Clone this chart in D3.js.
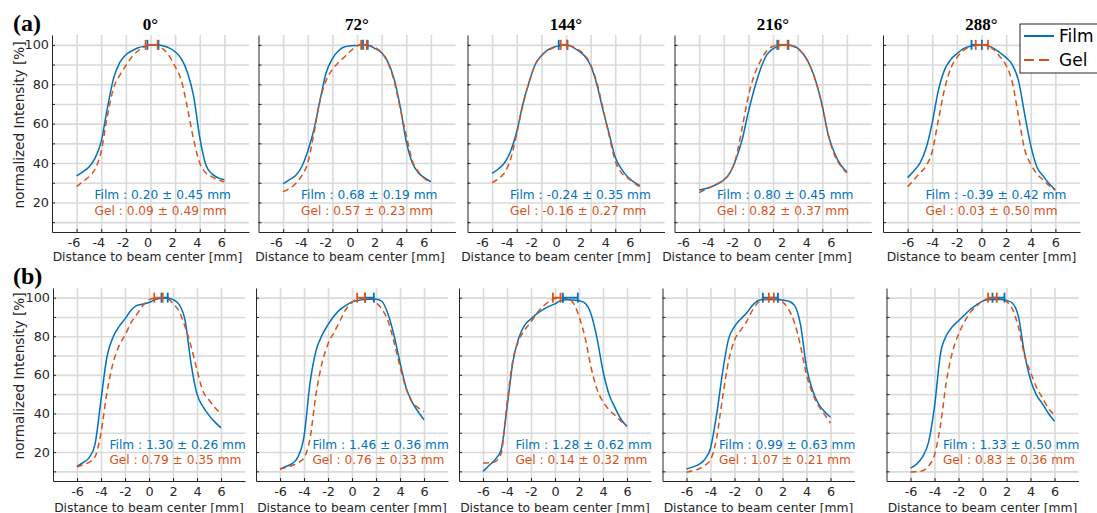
<!DOCTYPE html>
<html>
<head>
<meta charset="utf-8">
<script src="https://cdn.jsdelivr.net/npm/d3@7"></script>
<style>
  body { margin: 0; background: #fff; }
  svg { display: block; }
</style>
</head>
<body>
<svg id="chart" width="1097" height="513"></svg>
<script>
// ---- data ----
const angles = ["0°", "72°", "144°", "216°", "288°"];
const xs = [-6, -5.5, -5, -4.5, -4, -3.5, -3, -2.5, -2, -1.5, -1, -0.5, 0,
            0.5, 1, 1.5, 2, 2.5, 3, 3.5, 4, 4.5, 5, 5.5, 6];

// row (a)
const filmA = [
  [33.5, 35.5, 38, 42.5, 51, 68, 83, 91, 95, 97, 98.5, 99.3, 100, 100, 99.5, 98.5, 96.5, 93, 86, 74, 53, 39, 34.5, 32.5, 31.5],
  [29.5, 31.5, 33.5, 38, 46, 57, 72, 86, 93, 97, 99, 99.5, 99.7, 100, 99.5, 98, 96, 91.5, 83, 69, 51, 40, 35, 32.5, 30.5],
  [34.8, 37, 40, 46, 56, 70, 81, 90, 94.5, 97.3, 98.8, 99.6, 100, 99, 97, 94.5, 89.5, 80, 67, 55, 43, 37, 33, 30.5, 28.5],
  [26.3, 27, 28, 29.5, 31.4, 35, 42, 52, 66, 78, 88, 95, 98, 99.5, 100, 99.7, 98.3, 95, 89.5, 81, 69, 54, 45, 39, 35.5],
  [32.6, 36, 40, 47.5, 60.5, 77, 87.3, 92.5, 95.5, 98, 99.2, 99.7, 100, 99.5, 98.2, 96, 93.5, 90, 82, 65, 49, 38, 33.5, 29.5, 26.3]
];
const gelA = [
  [28, 30.5, 33, 37, 46, 64, 78, 84.5, 89.5, 94, 97, 99, 100, 99.8, 98, 94.5, 89, 82, 68, 52, 40, 35, 33, 31.5, 30.5],
  [25.5, 27, 29.5, 33.5, 40, 55, 72, 82, 87.5, 91, 94, 97, 99.5, 100, 99.7, 98.5, 96, 91, 82, 68, 54, 41, 35.5, 32, 30],
  [30, 32, 35, 42, 55, 69.5, 81, 90, 94.5, 97, 98.6, 99.5, 100, 99.2, 97.5, 95, 90, 81, 68, 54, 41, 35, 32.5, 30, 28],
  [25, 26.5, 28, 29.5, 31.4, 35, 43, 58, 74, 85, 92, 97, 99.3, 100, 100, 99.5, 98, 95, 89.5, 81, 69, 54, 44, 38.5, 35],
  [28, 31.5, 35, 38.5, 46, 62, 77.5, 88, 93.5, 97, 99, 100, 100, 99.5, 97.5, 94, 89.5, 81, 64, 47, 39.5, 34.5, 31.5, 28.5, 26.3]
];
// row (b)
const filmB = [
  [12.6, 14.5, 17, 24, 47, 69.5, 79.5, 85, 89, 93.5, 96, 96.7, 97.5, 99, 99.7, 99.8, 99, 96.5, 88.5, 66, 50, 43.5, 39, 35.5, 32.5],
  [11.2, 12.5, 14, 17.5, 28, 55.7, 72.5, 80.5, 86, 90.5, 93.8, 96, 97.8, 98.5, 99, 99.2, 99.2, 98, 91.5, 80.5, 66.5, 53.5, 46, 41, 36.7],
  [10, 13, 16, 21, 43, 67, 79.5, 86, 89, 91.7, 93.8, 95.5, 96.8, 98.5, 98.9, 98.8, 98.4, 97.2, 91.5, 79, 62, 50, 43, 37, 33.3],
  [11.2, 12.2, 13.5, 16, 22, 39, 61, 78.5, 85, 88.8, 92, 96, 98.5, 99, 99.1, 99.1, 98.8, 98.2, 96, 86, 64, 52, 45, 41, 38],
  [11.7, 13.7, 17.5, 25, 43.5, 71, 80.5, 85, 88, 91, 94, 96.3, 98.2, 99, 99.1, 99.1, 98.6, 97.1, 90, 71, 57.5, 49.5, 45, 40, 36]
];
const gelB = [
  [12.2, 13.5, 14.7, 17.5, 30, 51, 66, 75, 80.5, 87, 91.5, 96, 99, 99.8, 100, 99.7, 97, 93, 85, 75, 62.5, 51.5, 47, 43, 40],
  [11.2, 12, 13, 14.5, 17, 27, 50, 66, 76, 82, 88, 94, 97.5, 99.5, 99.8, 99.7, 97.5, 94, 88, 77, 64.3, 53, 46, 43, 41],
  [14.3, 14.5, 15, 19, 45, 68, 78, 83.5, 87.5, 92, 95.5, 97.9, 99.6, 99.8, 99.5, 97.5, 90.2, 79.5, 64, 52.5, 46, 42, 39, 36, 33.3],
  [9.5, 10.3, 11.2, 13, 16, 27, 48, 67, 78, 83, 87.5, 93.5, 97.6, 99, 99.1, 99, 97.8, 94, 87, 75, 60, 50.5, 44, 39.5, 35],
  [9.7, 9.8, 10.3, 12.8, 18.5, 34, 57, 72, 81, 87.5, 92.5, 95.5, 98.3, 99.5, 99.7, 99.6, 98, 94, 84.5, 70, 61.5, 53.5, 48, 42.5, 39.3]
];

// shift of the peak (mean ± std, mm)
const filmMeanA = [0.20, 0.68, -0.24, 0.80, -0.39];
const filmStdA  = [0.45, 0.19, 0.35, 0.45, 0.42];
const gelMeanA  = [0.09, 0.57, -0.16, 0.82, 0.03];
const gelStdA   = [0.49, 0.23, 0.27, 0.37, 0.50];
const filmMeanB = [1.30, 1.46, 1.28, 0.99, 1.33];
const filmStdB  = [0.26, 0.36, 0.62, 0.63, 0.50];
const gelMeanB  = [0.79, 0.76, 0.14, 1.07, 0.83];
const gelStdB   = [0.35, 0.33, 0.32, 0.21, 0.36];

const xTicks = [-6, -4, -2, 0, 2, 4, 6];
const yGrid = [10, 20, 30, 40, 50, 60, 70, 80, 90, 100];
const yLabels = [20, 40, 60, 80, 100];
const seriesNames = ["Film", "Gel"];

// ---- layout ----
const FILM = "#0072BD", GEL = "#D95319", AX = "#262626", GRID = "#dadada";
const FONT = "DejaVu Sans";

const rows = [
  { tag: "(a)", tagY: 31, top: 35, bottom: 232, width: 197, xLabelDy: 29,
    lefts: [52, 258.5, 467.5, 674.5, 883], labelDx: [-3, -7, -10, -16, 0],
    film: filmA, gel: gelA, fm: filmMeanA, fs: filmStdA, gm: gelMeanA, gs: gelStdA,
    annotX: -4.55, titles: true, yLabelY: 125 },
  { tag: "(b)", tagY: 284, top: 288, bottom: 481, width: 192, xLabelDy: 30.5,
    lefts: [53, 256, 459, 662.5, 886.5], labelDx: [0, 0, 0, 0, 0],
    film: filmB, gel: gelB, fm: filmMeanB, fs: filmStdB, gm: gelMeanB, gs: gelStdB,
    annotX: -3.3, titles: false, yLabelY: 376 }
];

const svg = d3.select("#chart");

rows.forEach((row) => {
  svg.append("text")
    .attr("x", 13).attr("y", row.tagY)
    .attr("font-family", "Liberation Serif").attr("font-weight", "bold")
    .attr("font-size", 24).attr("fill", "#000")
    .text(row.tag);

  // y label only on first panel of each row
  svg.append("text")
    .attr("transform", `translate(24,${row.yLabelY}) rotate(-90)`)
    .attr("text-anchor", "middle")
    .attr("font-family", FONT).attr("font-size", 13.6).attr("fill", AX)
    .text("normalized Intensity [%]");

  angles.forEach((ang, i) => {
    const left = row.lefts[i];
    const x = d3.scaleLinear().domain([-8, 8]).range([left, left + row.width]);
    const y = d3.scaleLinear().domain([5, 105]).range([row.bottom, row.top]);
    const h = row.bottom - row.top;
    const g = svg.append("g");

    // grid
    g.append("g")
      .attr("transform", `translate(0,${row.bottom})`)
      .call(d3.axisBottom(x).tickValues(xTicks).tickSize(-h).tickFormat(""))
      .call((s) => s.select(".domain").remove())
      .call((s) => s.selectAll("line").attr("stroke", GRID).attr("stroke-width", 1.6));
    g.append("g")
      .attr("transform", `translate(${left},0)`)
      .call(d3.axisLeft(y).tickValues(yGrid).tickSize(-row.width).tickFormat(""))
      .call((s) => s.select(".domain").remove())
      .call((s) => s.selectAll("line").attr("stroke", GRID).attr("stroke-width", 1.6));

    // axis lines + small inner ticks
    g.append("g")
      .attr("transform", `translate(${left},0)`)
      .call(d3.axisLeft(y).tickValues(yGrid).tickSize(-3).tickSizeOuter(0).tickFormat(""))
      .call((s) => s.selectAll("line, path").attr("stroke", AX));
    g.append("g")
      .attr("transform", `translate(0,${row.bottom})`)
      .call(d3.axisBottom(x).tickValues(xTicks).tickSize(-3).tickSizeOuter(0).tickFormat(""))
      .call((s) => s.selectAll("line, path").attr("stroke", AX));

    // tick labels
    g.append("g")
      .attr("transform", `translate(${row.labelDx[i]},${row.bottom})`)
      .call(d3.axisBottom(x).tickValues(xTicks).tickSize(0).tickPadding(6).tickFormat((d) => String(d)))
      .call((s) => s.select(".domain").remove())
      .call((s) => s.selectAll("text").attr("font-family", FONT).attr("font-size", 12.8).attr("fill", AX));
    if (i === 0) {
      g.append("g")
        .attr("transform", `translate(${left},0)`)
        .call(d3.axisLeft(y).tickValues(yLabels).tickSize(0).tickPadding(3).tickFormat((d) => String(d)))
        .call((s) => s.select(".domain").remove())
        .call((s) => s.selectAll("text").attr("font-family", FONT).attr("font-size", 12.8).attr("fill", AX));
    }

    g.append("text")
      .attr("x", left + row.width / 2 + row.labelDx[i]).attr("y", row.bottom + row.xLabelDy)
      .attr("text-anchor", "middle")
      .attr("font-family", FONT).attr("font-size", 12.3).attr("fill", AX)
      .text("Distance to beam center [mm]");

    if (row.titles) {
      g.append("text")
        .attr("x", left + row.width / 2).attr("y", 30)
        .attr("text-anchor", "middle")
        .attr("font-family", "Liberation Serif").attr("font-weight", "bold")
        .attr("font-size", 17).attr("fill", "#000")
        .text(ang);
    }

    // curves
    const line = d3.line()
      .x((d, k) => x(xs[k]))
      .y((d) => y(d))
      .curve(d3.curveMonotoneX);
    g.append("path")
      .attr("d", line(row.film[i]))
      .attr("fill", "none").attr("stroke", FILM).attr("stroke-width", 1.5);
    g.append("path")
      .attr("d", line(row.gel[i]))
      .attr("fill", "none").attr("stroke", GEL).attr("stroke-width", 1.5)
      .attr("stroke-dasharray", "6,4");

    // peak-shift error bars at 100 %
    const bars = [
      { m: row.fm[i], s: row.fs[i], c: FILM },
      { m: row.gm[i], s: row.gs[i], c: GEL }
    ];
    bars.forEach((b) => {
      const y0 = y(100);
      const bg = g.append("g").attr("stroke", b.c).attr("stroke-width", 1.8);
      bg.append("line").attr("x1", x(b.m - b.s)).attr("x2", x(b.m + b.s)).attr("y1", y0).attr("y2", y0);
      [b.m - b.s, b.m + b.s].forEach((v) => {
        bg.append("line").attr("x1", x(v)).attr("x2", x(v)).attr("y1", y0 - 5).attr("y2", y0 + 5);
      });
    });

    // annotations
    const fmt = (v) => v.toFixed(2);
    g.append("text")
      .attr("x", x(row.annotX)).attr("y", y(24)).attr("dy", "0.35em")
      .attr("font-family", FONT).attr("font-size", 12.2).attr("fill", FILM)
      .text(`Film : ${fmt(row.fm[i])} ± ${fmt(row.fs[i])} mm`);
    g.append("text")
      .attr("x", x(row.annotX)).attr("y", y(16)).attr("dy", "0.35em")
      .attr("font-family", FONT).attr("font-size", 12.2).attr("fill", GEL)
      .text(`Gel : ${fmt(row.gm[i])} ± ${fmt(row.gs[i])} mm`);
  });
});

// legend
const leg = svg.append("g").attr("transform", "translate(1020,24)");
leg.append("rect").attr("width", 90).attr("height", 49)
  .attr("fill", "#fff").attr("stroke", AX).attr("stroke-width", 1);
seriesNames.forEach((name, k) => {
  const yy = 12 + k * 24;
  leg.append("line").attr("x1", 4).attr("x2", 34).attr("y1", yy).attr("y2", yy)
    .attr("stroke", k === 0 ? FILM : GEL).attr("stroke-width", 2)
    .attr("stroke-dasharray", k === 0 ? null : "10,5");
  leg.append("text").attr("x", 39).attr("y", yy).attr("dy", "0.36em")
    .attr("font-family", FONT).attr("font-size", 17).attr("fill", "#000")
    .text(name);
});
</script>
</body>
</html>
